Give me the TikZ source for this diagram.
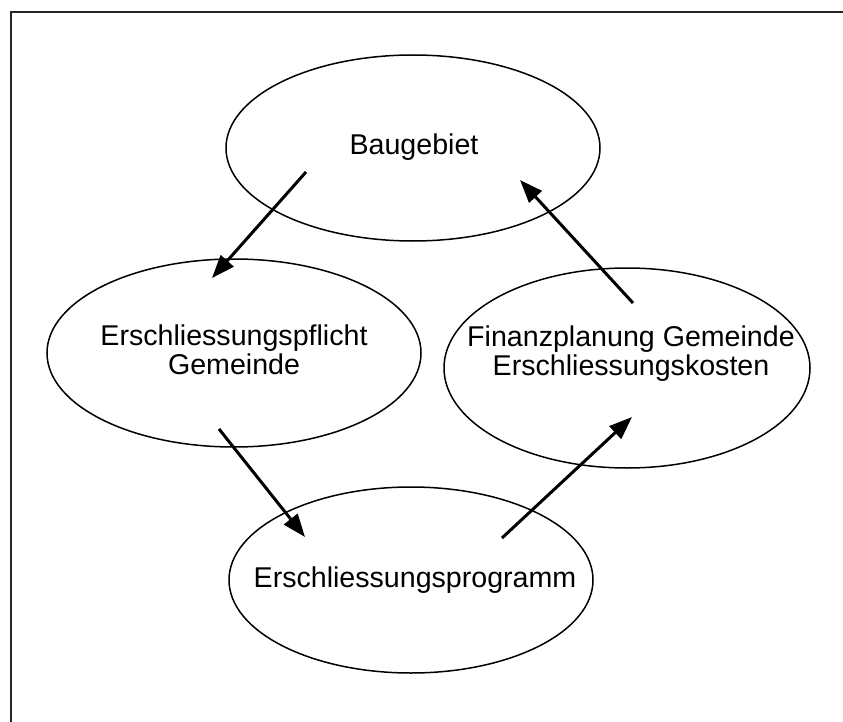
\documentclass[tikz,border=0pt]{standalone}
\usepackage{fontspec}
\setmainfont{Liberation Sans}
\usetikzlibrary{shapes.geometric, arrows.meta}

\begin{document}
\begin{tikzpicture}[
    x=1pt, y=-1pt,
    oval/.style={
            ellipse,
            draw,
            line width=1.5pt,
            inner sep=0pt
        },
    caption/.style={
            align=center,
            inner sep=0pt,
            font=\fontsize{28.6}{29}\selectfont
        },
    arrow/.style={line width=3pt, -{Triangle[length=23pt, width=17pt]}},
    frame/.style={line width=2pt, draw=black!85},
    ]

    \useasboundingbox (0,0) rectangle (843,722);

    % --- Frame ---
    \draw[frame] (11,12) rectangle (870,750);

    % --- Ellipses ---
    \node (baugebiet) [oval, minimum width=374pt, minimum height=186pt] at (413,148) {};
    \node (pflicht) [oval, minimum width=374pt, minimum height=188pt] at (234,353) {};
    \node (finanz) [oval, minimum width=366pt, minimum height=200pt] at (627,368) {};
    \node (programm) [oval, minimum width=364pt, minimum height=186pt] at (411,580) {};

    % --- Texts ---
    \node (baugebiet_text) [caption] at (414,147) {Baugebiet};
    \node (pflicht_text) [caption] at (234,350) {Erschliessungspflicht\\Gemeinde};
    \node (finanz_text) [caption] at (631,354) {Finanzplanung Gemeinde\\Erschliessungskosten};
    \node (programm_text) [caption] at (415,580) {Erschliessungsprogramm};

    % --- Arrow ends ---
    \coordinate (bau_out) at (306,172);
    \coordinate (pflicht_in) at (212,278);
    \coordinate (pflicht_out) at (219,429);
    \coordinate (programm_in) at (305,537);
    \coordinate (programm_out) at (502,538);
    \coordinate (finanz_in) at (632,417);
    \coordinate (finanz_out) at (633,303);
    \coordinate (bau_in) at (520,180);

    % --- Arrows ---
    \draw[arrow] (bau_out) -- (pflicht_in);
    \draw[arrow] (pflicht_out) -- (programm_in);
    \draw[arrow] (programm_out) -- (finanz_in);
    \draw[arrow] (finanz_out) -- (bau_in);

\end{tikzpicture}
\end{document}
